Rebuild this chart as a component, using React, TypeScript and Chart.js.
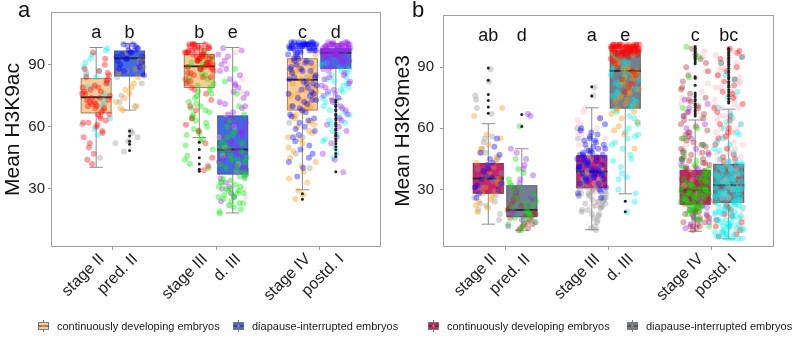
import { useEffect, useRef } from "react";
import { Chart, registerables } from "chart.js";

Chart.register(...registerables);

const FONT = "'Liberation Sans', Arial, Helvetica, sans-serif";

// ---- categories & axes ----
const CATEGORIES = ["stage II", "pred. II", "stage III", "d. III", "stage IV", "postd. I"];
const Y_TICKS = [30, 60, 90];
const Y_MIN = 1.8;
const Y_MAX = 115.6;
const LETTER_Y = 103;

// ---- H3K9ac box statistics ----
const AC_LOW = [40.4, 68.1, 54.8, 18.3, 29.5, 73.5];
const AC_Q1 = [66.5, 84.4, 78.8, 36.9, 67.9, 88.1];
const AC_MEDIAN = [74.3, 93.2, 89.3, 49.0, 82.8, 95.9];
const AC_Q3 = [83.6, 96.9, 95.3, 65.5, 93.2, 98.0];
const AC_HIGH = [98.4, 100.4, 100.4, 98.4, 100.4, 100.4];
const AC_LETTERS = ["a", "b", "b", "e", "c", "d"];

const AC_OUT_STAGE_II: number[] = [];
const AC_OUT_PRED_II = [58, 55.5, 53, 51.5, 48.5];
const AC_OUT_STAGE_III = [52.5, 49, 45, 42, 39.5, 38.5];
const AC_OUT_D_III: number[] = [];
const AC_OUT_STAGE_IV = [27.6, 24.9];
const AC_OUT_POSTD_I = [72.8, 71.9, 70.6, 69.8, 68.4, 67.7, 66.2, 65.5, 64.1, 63.3, 62.0, 61.2, 60.4, 59.1, 58.3, 57.0, 56.2, 55.5, 54.1, 53.0, 51.8, 50.3, 48.9, 47.1, 45.6, 38.2];

// ---- H3K9ac individual nuclei, by embryo colour (first colour is drawn on top) ----
const AC_STAGE_II = {
  red: [74, 62, 81, 69, 77, 58, 71, 85, 66, 73, 90, 47, 79, 64, 72, 83, 60, 76, 68, 42, 75, 87, 70, 63, 80, 55, 67, 78, 73, 61, 84, 69, 96, 76, 65, 50, 82, 71, 88, 57, 74, 66, 79, 44, 93, 72, 62, 77, 52, 86, 70],
  cyan: [98, 84, 91, 73, 95, 64, 87, 79, 97, 59, 89, 70, 93, 81, 56, 85, 76],
  gray: [86, 71, 79, 61, 45],
};
const AC_PRED_II = {
  blue: [99, 94, 97, 100, 91, 96, 88, 98, 93, 85, 100, 95, 89, 97, 92, 99, 87, 94, 96, 90, 98, 93],
  orange: [88, 74, 93, 79, 69, 84, 96, 72, 81, 68, 90, 76, 86, 70, 78],
  gray: [89, 57, 75, 92, 53, 84, 70, 48, 81, 58, 72, 55, 87, 52],
};
const AC_STAGE_III = {
  red: [97, 91, 99, 86, 94, 100, 88, 95, 82, 98, 92, 96, 89, 100, 84, 93, 97, 90, 99, 87, 95, 79, 98, 92, 96, 100, 85, 94, 88, 99, 91, 97, 83, 95, 100, 89, 93, 96, 76, 98, 90, 94, 86, 99, 92, 81, 97, 95, 73, 88, 100, 91, 68, 96, 84, 64, 93, 58, 89, 52, 78, 45, 98, 70, 41, 94, 61, 39],
  green: [88, 72, 95, 63, 81, 54, 91, 67, 77, 46, 85, 59, 93, 70, 42, 83, 75, 51, 97, 65, 79, 57, 89, 62, 74, 49, 86, 69, 40, 80, 56, 92, 66, 76, 53, 84, 60, 71, 44, 90, 64, 78, 58, 82, 68],
};
const AC_D_III = {
  green: [42, 28, 55, 35, 21, 47, 31, 63, 26, 39, 51, 23, 44, 33, 70, 29, 37, 58, 25, 48, 34, 19, 41, 30, 66, 27, 53, 36, 22, 45, 32, 82, 38, 24, 50, 29, 60, 43, 26, 35, 20, 46, 31, 76, 40, 28, 56, 33, 23, 49, 37, 88, 27, 52, 30, 18, 44],
  purple: [94, 62, 81, 45, 97, 53, 72, 38, 88, 59, 67, 30, 85, 49, 76, 41, 92, 56, 64, 35, 79, 47, 70, 26, 98, 58, 83, 43, 61, 33, 74, 52, 90, 46, 66, 39, 80, 55, 69, 28, 87, 50, 63, 36, 77, 44, 57, 31, 95, 48, 71, 40, 60, 24],
  pink: [96, 50, 83, 34, 71, 42, 90, 26, 60, 46, 77, 22, 55, 38, 66, 30],
};
const AC_STAGE_IV = {
  blue: [100, 99, 101, 98, 100, 97, 99, 101, 100, 96, 98, 100, 99, 97, 101, 100, 98, 99, 95, 100, 97, 101, 99, 98, 100, 96, 99, 100, 98, 101, 97, 99, 100, 95, 98, 100, 99, 97, 101, 100,
    91, 84, 73, 88, 66, 79, 94, 58, 82, 70, 87, 62, 76, 92, 53, 81, 68, 89, 45, 74, 85, 60, 93, 77, 49, 83, 71, 90, 64, 40, 86, 75, 56, 80, 67, 92, 47, 78, 88, 63, 36, 84, 72, 55, 91, 69, 43, 81, 59, 76, 87, 65, 51, 93, 73],
  orange: [86, 70, 93, 55, 78, 64, 89, 41, 75, 82, 60, 95, 68, 48, 84, 73, 35, 91, 66, 79, 52, 87, 62, 29, 77, 71, 94, 57, 83, 45, 69, 90, 74, 38, 81, 63, 88, 50, 72, 25, 85, 67, 92, 58, 76, 43, 80, 65, 97, 54, 70, 33, 87, 61, 27],
  gray: [90, 62, 84, 47, 76, 55, 70, 40],
};
const AC_POSTD_I = {
  purple: [99, 97, 100, 95, 98, 93, 101, 96, 99, 91, 100, 97, 94, 98, 100, 92, 99, 96, 101, 95, 98, 90, 100, 97, 99, 94, 96, 100, 98, 93, 101, 99, 95, 97, 100, 89, 98, 96, 99, 92, 100, 97, 94, 98, 101, 95, 99, 91, 96, 100, 98, 93, 97, 99, 88, 100, 95, 98, 96, 99,
    85, 72, 80, 64, 87, 58, 76, 83, 69, 52, 81, 74, 61, 86, 78, 47, 70, 84, 66, 55, 79, 38, 73, 82, 60, 77, 68, 44, 75, 63],
  cyan: [88, 74, 91, 62, 82, 53, 78, 68, 86, 47, 72, 80, 58, 90, 65, 76, 84, 50, 70, 87, 61, 79, 56, 83, 67, 45, 74, 89, 63, 81, 71, 54, 77, 85, 66],
};

// ---- H3K9me3 box statistics ----
const ME3_LOW = [13.0, 10.0, 10.3, 27.9, 9.5, 5.8];
const ME3_Q1 = [27.9, 16.4, 30.6, 69.7, 22.5, 23.4];
const ME3_MEDIAN = [35.4, 20.0, 38.8, 88.2, 29.5, 32.1];
const ME3_Q3 = [43.0, 32.1, 46.8, 98.3, 39.6, 42.6];
const ME3_HIGH = [62.3, 50.0, 70.1, 100.4, 64.1, 69.4];
const ME3_LETTERS = ["ab", "d", "a", "e", "c", "bc"];

const ME3_OUT_STAGE_II = [89.6, 83.6, 76.6, 73.6, 70.5, 67.4];
const ME3_OUT_PRED_II = [66.8, 60.9];
const ME3_OUT_STAGE_III = [80.4, 75.9];
const ME3_OUT_D_III = [24.2, 19.1];
const ME3_OUT_STAGE_IV = [100.2, 99.3, 98.6, 97.8, 96.9, 96.1, 95.2, 94.4, 93.6, 92.5, 91.7, 85.3, 84.6, 81.1, 77.4, 76.3, 75.5, 74.2, 73.4, 72.1, 71.3, 70.2, 69.0, 68.2, 67.1, 66.0];
const ME3_OUT_POSTD_I = [99.2, 98.4, 97.5, 96.7, 95.8, 94.9, 94.0, 93.2, 92.3, 91.4, 90.6, 89.5, 88.3, 87.4, 86.2, 85.1, 84.3, 83.0, 82.2, 81.1, 80.2, 78.9, 77.8, 76.6, 75.7, 74.5, 73.3, 72.4];

// ---- H3K9me3 individual nuclei, by embryo colour (first colour is drawn on top) ----
const ME3_STAGE_II = {
  blue: [36, 48, 30, 42, 26, 51, 39, 33, 45, 28, 55, 37, 31, 43, 35, 47, 40, 32],
  orange: [30, 52, 19, 44, 36, 70, 25, 48, 33, 57, 22, 41, 28, 55, 38, 24, 46, 31, 66, 27, 50, 35, 21, 43, 29],
  gray: [20, 35, 48, 26, 56, 31, 15, 42, 70, 24, 53, 38, 89, 29, 45, 22, 76, 34, 50, 18, 83, 40, 27, 55, 33, 67, 23, 46, 37, 74],
};
const ME3_PRED_II = {
  green: [61, 35, 20, 45, 27, 12, 32, 18, 40, 24, 15, 29, 22, 10, 33, 19, 26, 14, 38, 21, 17, 31, 13, 23, 16],
  purple: [67, 48, 25, 40, 18, 66, 33, 12, 45, 28, 37, 15, 50, 22, 30, 14, 42, 20, 26, 35],
  brown: [18, 13, 25, 16, 11, 21, 14, 28, 19, 12, 23, 15, 10, 20, 17, 30, 13, 22, 16, 11, 26, 18],
};
const ME3_STAGE_III = {
  blue: [45, 38, 58, 33, 50, 42, 62, 36, 47, 29, 55, 40, 44, 52, 35, 48, 60, 39, 43, 31, 54, 46, 37, 49, 41, 57, 34, 45, 51, 38, 65, 42, 28, 53, 36, 47, 40, 59, 33, 44, 50, 37, 48, 26, 56, 41, 46, 35, 52, 39, 43, 30, 49, 45, 38, 54, 42, 36, 47, 40],
  gray: [25, 32, 18, 40, 28, 12, 35, 22, 45, 30, 15, 38, 26, 76, 20, 33, 27, 55, 10, 36, 24, 29, 42, 17, 31, 23, 80, 34, 21, 48, 27, 14, 37, 25, 30, 19, 41, 28, 60, 22, 33, 26, 11, 39, 24, 50, 29, 16, 35, 21, 44, 27, 31, 23, 38, 18, 28, 34, 20, 26],
  pink: [65, 42, 58, 30, 70, 50, 36, 62, 24, 46, 55, 33, 68, 40, 27, 52, 60, 38, 45, 22, 57, 35, 48, 64, 29],
};
const ME3_D_III = {
  red: [100, 99, 101, 98, 100, 97, 99, 101, 100, 98, 96, 100, 99, 101, 97, 100, 98, 99, 101, 100, 96, 99, 98, 100, 101, 97, 99, 100, 98, 101, 95, 100, 99, 97, 101, 98, 100, 99, 96, 100, 101, 98, 99, 100, 97, 101, 99, 98, 100, 95, 99, 101, 100, 98, 97, 100, 99, 101, 96, 100, 92, 88, 84, 94, 80, 90, 86, 78, 93, 82],
  orange: [95, 86, 74, 91, 68, 82, 97, 77, 61, 88, 72, 93, 84, 65, 79, 90, 70, 86, 57, 94, 81, 75, 63, 89, 73, 96, 83, 67, 78, 92, 71, 85, 59, 87, 76, 98, 80, 69, 50, 88],
  cyan: [92, 78, 56, 85, 44, 70, 95, 62, 36, 82, 74, 50, 88, 66, 30, 79, 58, 90, 72, 41, 84, 55, 68, 24, 93, 76, 47, 81, 63, 87, 53, 71, 38, 86, 60, 77, 28, 91, 69, 45, 83, 57, 19, 75, 65, 89, 52, 80, 35, 73],
};
const ME3_STAGE_IV = {
  green: [30, 25, 35, 22, 28, 40, 19, 33, 26, 31, 45, 23, 29, 37, 21, 27, 52, 32, 24, 36, 18, 30, 42, 26, 34, 20, 29, 60, 25, 38, 23, 31, 15, 28, 35, 22, 48, 27, 33, 12, 30, 24, 39, 26, 70, 21, 32, 28, 44, 25, 36, 19, 29, 95, 23, 34, 27, 55, 31, 20, 38, 26, 100, 30, 22, 41, 28, 85, 33, 16],
  brown: [28, 45, 18, 62, 33, 24, 75, 38, 14, 52, 30, 88, 21, 41, 67, 26, 35, 12, 56, 31, 96, 23, 48, 37, 16, 70, 29, 43, 20, 83, 34, 58, 25, 11, 40, 65, 27, 50, 19, 36, 92, 32, 46, 22, 73, 28, 13, 54, 39, 24, 80, 30, 44, 17, 61, 35, 26, 99, 42, 21, 68, 33, 15, 49, 29, 77, 38, 23, 57, 31, 10, 45, 27, 86, 36, 19, 64, 32, 47, 25, 71, 40, 14, 53, 30, 94, 22, 59, 34, 18, 43, 28, 79, 37, 26, 51, 20, 66, 33, 12, 48, 24, 90, 39, 29, 55, 16, 74, 35, 41],
  purple: [12, 45, 25, 68, 18, 35, 74, 22, 55, 14, 40, 28, 62, 16, 48, 32, 20, 72, 38, 11, 52, 26, 42, 15, 58, 30, 19, 66, 36, 13, 47, 24, 60, 33, 17, 44, 28, 70, 21, 50],
  pink: [65, 40, 82, 28, 55, 95, 35, 72, 48, 20, 88, 60, 32, 78, 45, 15, 68, 52, 98, 38, 75, 25, 58, 42, 85],
};
const ME3_POSTD_I = {
  cyan: [30, 12, 38, 22, 7, 42, 27, 18, 35, 9, 25, 44, 15, 32, 20, 6, 40, 28, 13, 36, 24, 8, 33, 17, 41, 26, 11, 30, 21, 39, 14, 29, 6, 37, 23, 10, 43, 31, 19, 34, 8, 27, 16, 40, 25, 12, 36, 22, 7, 32, 18, 45, 28, 13, 38, 24, 9, 34, 20, 41, 30, 15, 26, 6, 37, 22, 11, 33, 19, 29, 42, 14, 35, 25, 8, 31, 17, 39, 27, 12, 23, 44, 20, 10, 36, 28, 16, 33, 7, 24, 40, 30, 13, 21, 38, 26, 9, 35, 18, 31, 43, 15, 27, 22, 11, 37, 29, 6, 34, 19,
    48, 55, 62, 52, 70, 58, 86, 50, 65, 92, 57, 75, 53, 84, 60, 95, 67, 49, 78, 63],
  red: [95, 20, 62, 35, 88, 12, 47, 78, 28, 99, 55, 8, 40, 70, 17, 92, 33, 58, 25, 84, 44, 14, 66, 38, 97, 22, 52, 75, 30, 10, 60, 86, 42, 18, 72, 36, 94, 26, 50, 15, 81, 46, 32, 64, 7, 90, 56, 24, 77, 39, 98, 21, 68, 45, 83],
  pink: [60, 85, 32, 48, 72, 18, 95, 40, 66, 25, 55, 80, 36, 90, 12, 62, 45, 76, 28, 52, 98, 38, 70, 22, 58, 84, 34, 46, 68, 15, 92, 42, 74, 30, 56, 82, 26, 64, 50, 88, 20, 78, 44, 60, 35, 96, 53, 70, 24, 48, 86, 40, 66, 16, 58, 80, 32, 94, 54, 74, 28, 62, 44, 89, 37, 50, 71, 58, 26, 83],
};

// ---- styling ----
const DOT_RGB: Record<string, string> = {
  red: "255,0,0",
  cyan: "0,238,238",
  gray: "150,150,150",
  orange: "255,150,0",
  blue: "0,0,255",
  green: "0,235,0",
  purple: "160,32,240",
  pink: "255,182,193",
  brown: "165,42,42",
};
const DOT_ALPHA = 0.38;
const DOT_RADIUS = 3;
const DODGE = 0.162;
const BOX_HALF = 0.15;
const CAP_HALF = 0.065;
const JITTER = 0.14;

const LEGEND_LABELS = ["continuously developing embryos", "diapause-interrupted embryos"];

type Groups = Record<string, number[]>;
interface Panel {
  groups: Groups[];
  low: number[];
  q1: number[];
  median: number[];
  q3: number[];
  high: number[];
  outliers: number[][];
  letters: string[];
  fills: [string, string];
  title: string;
  tag: string;
  tagX: number;
  titleX: number;
  tickPad: number;
  padRight: number;
  legendX: [number, number];
}

const PANEL_A: Panel = {
  groups: [AC_STAGE_II, AC_PRED_II, AC_STAGE_III, AC_D_III, AC_STAGE_IV, AC_POSTD_I],
  low: AC_LOW, q1: AC_Q1, median: AC_MEDIAN, q3: AC_Q3, high: AC_HIGH,
  outliers: [AC_OUT_STAGE_II, AC_OUT_PRED_II, AC_OUT_STAGE_III, AC_OUT_D_III, AC_OUT_STAGE_IV, AC_OUT_POSTD_I],
  letters: AC_LETTERS,
  fills: ["#FBCD96", "#4169E1"],
  title: "Mean H3K9ac",
  tag: "a",
  tagX: 18,
  titleX: 18.5,
  tickPad: 3,
  padRight: 21,
  legendX: [38, 233],
};

const PANEL_B: Panel = {
  groups: [ME3_STAGE_II, ME3_PRED_II, ME3_STAGE_III, ME3_D_III, ME3_STAGE_IV, ME3_POSTD_I],
  low: ME3_LOW, q1: ME3_Q1, median: ME3_MEDIAN, q3: ME3_Q3, high: ME3_HIGH,
  outliers: [ME3_OUT_STAGE_II, ME3_OUT_PRED_II, ME3_OUT_STAGE_III, ME3_OUT_D_III, ME3_OUT_STAGE_IV, ME3_OUT_POSTD_I],
  letters: ME3_LETTERS,
  fills: ["#C6246F", "#708090"],
  title: "Mean H3K9me3",
  tag: "b",
  tagX: 20,
  titleX: 16.5,
  tickPad: 6,
  padRight: 20,
  legendX: [36, 235],
};

// dodged position of each category around its stage group
const xPos = (i: number) => Math.floor(i / 2) + 1 + (i % 2 === 0 ? -DODGE : DODGE);
// horizontal jitter offset (low-discrepancy sequence)
const jitter = (i: number, seed: number) => ((((i + 1) * 0.6180339887 + seed * 0.2718) % 1) - 0.5) * 2 * JITTER;

function buildDatasets(p: Panel) {
  const sets: any[] = [];
  p.groups.forEach((g, ci) => {
    Object.keys(g).forEach((col, k) => {
      sets.push({
        data: g[col].map((v, i) => ({ x: xPos(ci) + jitter(i, ci * 3 + k), y: v })),
        backgroundColor: `rgba(${DOT_RGB[col]},${DOT_ALPHA})`,
        borderWidth: 0,
        pointRadius: DOT_RADIUS,
        order: 2,
      });
    });
  });
  sets.push({
    data: p.outliers.flatMap((vals, ci) => vals.map((v) => ({ x: xPos(ci), y: v }))),
    backgroundColor: "#222",
    borderWidth: 0,
    pointRadius: 1.5,
    order: 0,
  });
  return sets;
}

function boxPlugin(p: Panel) {
  return {
    id: "boxes",
    beforeDatasetsDraw(chart: any) {
      const { ctx, scales } = chart;
      const x = scales.x;
      const y = scales.y;
      ctx.save();
      CATEGORIES.forEach((_, i) => {
        const c = x.getPixelForValue(xPos(i));
        const hw = x.getPixelForValue(xPos(i) + BOX_HALF) - c;
        const cap = x.getPixelForValue(xPos(i) + CAP_HALF) - c;
        const yl = y.getPixelForValue(p.low[i]);
        const yh = y.getPixelForValue(p.high[i]);
        const y1 = y.getPixelForValue(p.q1[i]);
        const y3 = y.getPixelForValue(p.q3[i]);
        const ym = y.getPixelForValue(p.median[i]);
        // error bar whiskers
        ctx.strokeStyle = "#8c8c8c";
        ctx.lineWidth = 1;
        ctx.beginPath();
        ctx.moveTo(c, yl);
        ctx.lineTo(c, yh);
        ctx.moveTo(c - cap, yl);
        ctx.lineTo(c + cap, yl);
        ctx.moveTo(c - cap, yh);
        ctx.lineTo(c + cap, yh);
        ctx.stroke();
        // box
        ctx.fillStyle = p.fills[i % 2];
        ctx.fillRect(c - hw, y3, hw * 2, y1 - y3);
        ctx.strokeStyle = "rgba(80,80,80,0.55)";
        ctx.strokeRect(c - hw + 0.5, y3 + 0.5, hw * 2 - 1, y1 - y3 - 1);
        // median
        ctx.strokeStyle = "#2a2a2a";
        ctx.lineWidth = 2;
        ctx.beginPath();
        ctx.moveTo(c - hw, ym);
        ctx.lineTo(c + hw, ym);
        ctx.stroke();
      });
      ctx.restore();
    },
    afterDraw(chart: any) {
      const { ctx, scales, chartArea } = chart;
      const x = scales.x;
      const y = scales.y;
      ctx.save();
      // panel frame
      ctx.strokeStyle = "#a0a0a0";
      ctx.lineWidth = 1;
      ctx.strokeRect(chartArea.left + 0.5, chartArea.top + 0.5, chartArea.right - chartArea.left - 1, chartArea.bottom - chartArea.top - 1);
      ctx.fillStyle = "#111";
      // significance letters
      ctx.font = `18px ${FONT}`;
      ctx.textAlign = "center";
      ctx.textBaseline = "alphabetic";
      p.letters.forEach((t, i) => {
        ctx.fillText(t, x.getPixelForValue(xPos(i)), y.getPixelForValue(LETTER_Y));
      });
      // category labels, rotated 45 degrees
      ctx.fillStyle = "#222";
      ctx.font = `16px ${FONT}`;
      CATEGORIES.forEach((t, i) => {
        ctx.save();
        ctx.translate(x.getPixelForValue(xPos(i)), chartArea.bottom + 4);
        ctx.rotate(-Math.PI / 4);
        ctx.textAlign = "right";
        ctx.textBaseline = "top";
        ctx.fillText(t, 0, 0);
        ctx.restore();
      });
      // y axis title
      ctx.save();
      ctx.translate(p.titleX, (chartArea.top + chartArea.bottom) / 2);
      ctx.rotate(-Math.PI / 2);
      ctx.font = `21px ${FONT}`;
      ctx.fillStyle = "#111";
      ctx.textAlign = "center";
      ctx.textBaseline = "alphabetic";
      ctx.fillText(p.title, 0, 0);
      ctx.restore();
      // panel tag
      ctx.font = `22px ${FONT}`;
      ctx.fillStyle = "#111";
      ctx.textAlign = "left";
      ctx.textBaseline = "alphabetic";
      ctx.fillText(p.tag, p.tagX, 16.5);
      // legend
      const ly = 326;
      p.legendX.forEach((lx, k) => {
        const cx = lx + 5.5;
        ctx.strokeStyle = "#7a7a7a";
        ctx.lineWidth = 1;
        ctx.beginPath();
        ctx.moveTo(cx, ly - 6);
        ctx.lineTo(cx, ly + 6);
        ctx.stroke();
        ctx.fillStyle = p.fills[k];
        ctx.fillRect(lx, ly - 4, 11, 8);
        ctx.strokeRect(lx + 0.5, ly - 3.5, 10, 7);
        ctx.strokeStyle = "#333";
        ctx.beginPath();
        ctx.moveTo(lx, ly);
        ctx.lineTo(lx + 11, ly);
        ctx.stroke();
        ctx.fillStyle = "rgba(255,150,60,0.6)";
        ctx.beginPath();
        ctx.arc(cx, ly, 1.4, 0, Math.PI * 2);
        ctx.fill();
        ctx.fillStyle = "#1a1a1a";
        ctx.font = `11px ${FONT}`;
        ctx.textBaseline = "middle";
        ctx.textAlign = "left";
        ctx.fillText(LEGEND_LABELS[k], lx + 19, ly + 0.5);
      });
      ctx.restore();
    },
  };
}

function makeChart(canvas: HTMLCanvasElement, p: Panel) {
  return new Chart(canvas, {
    type: "scatter",
    data: { datasets: buildDatasets(p) },
    options: {
      animation: false,
      responsive: false,
      devicePixelRatio: 1,
      events: [],
      layout: { padding: { top: 10, right: p.padRight, bottom: 0, left: 0 } },
      plugins: { legend: { display: false }, tooltip: { enabled: false } },
      scales: {
        x: {
          type: "linear",
          min: 0.4,
          max: 3.6,
          afterBuildTicks: (s: any) => {
            s.ticks = [1, 2, 3].map((v) => ({ value: v }));
          },
          afterFit: (s: any) => {
            s.height = 96;
          },
          ticks: { display: false },
          grid: { drawOnChartArea: false, drawTicks: true, tickLength: 3, color: "#9a9a9a" },
          border: { display: false },
        },
        y: {
          type: "linear",
          min: Y_MIN,
          max: Y_MAX,
          afterBuildTicks: (s: any) => {
            s.ticks = Y_TICKS.map((v) => ({ value: v }));
          },
          afterFit: (s: any) => {
            s.width = 51;
          },
          ticks: { font: { family: FONT, size: 15 }, color: "#222", padding: p.tickPad },
          grid: { drawOnChartArea: false, drawTicks: true, tickLength: 3, color: "#9a9a9a" },
          border: { display: false },
        },
      },
    },
    plugins: [boxPlugin(p)],
  } as any);
}

export default function App() {
  const refA = useRef<HTMLCanvasElement>(null);
  const refB = useRef<HTMLCanvasElement>(null);

  useEffect(() => {
    const a = makeChart(refA.current!, PANEL_A);
    const b = makeChart(refB.current!, PANEL_B);
    return () => {
      a.destroy();
      b.destroy();
    };
  }, []);

  return (
    <div style={{ position: "absolute", left: 0, top: 0, width: 794, height: 343, background: "#fff", overflow: "hidden" }}>
      <canvas ref={refA} width={402} height={343} style={{ position: "absolute", left: 0, top: 0, width: 402, height: 343 }} />
      <canvas ref={refB} width={402} height={343} style={{ position: "absolute", left: 392, top: 0, width: 402, height: 343 }} />
    </div>
  );
}
